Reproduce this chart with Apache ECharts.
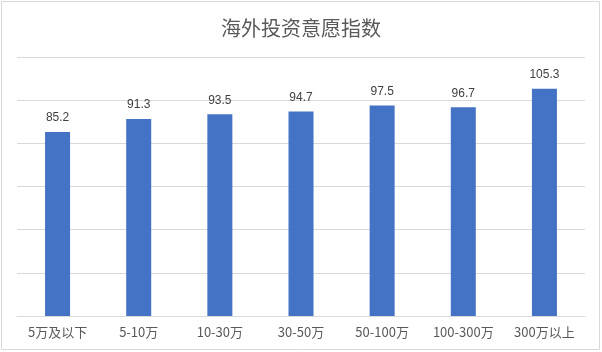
<!DOCTYPE html>
<html>
<head>
<meta charset="utf-8">
<script src="https://cdn.jsdelivr.net/npm/echarts@6/dist/echarts.min.js"></script>
<style>
  html, body { margin: 0; padding: 0; background: #fff; }
  #chart { width: 602px; height: 352px; }
</style>
</head>
<body>
<div id="chart"></div>
<script>
// income brackets and index values
const categories = ['5万及以下', '5-10万', '10-30万', '30-50万', '50-100万', '100-300万', '300万以上'];
const values = [85.2, 91.3, 93.5, 94.7, 97.5, 96.7, 105.3];

const chart = echarts.init(document.getElementById('chart'));

const option = {
  animation: false,
  backgroundColor: '#fff',
  title: {
    text: '海外投资意愿指数',
    left: 'center',
    top: 13,
    textStyle: {
      color: '#595959',
      fontSize: 20,
      fontWeight: 'normal',
      fontFamily: 'Noto Sans CJK SC'
    }
  },
  graphic: [{
    type: 'rect',
    shape: { x: 1.5, y: 1.5, width: 598, height: 348 },
    style: { fill: 'none', stroke: '#d9d9d9', lineWidth: 1 },
    silent: true
  }],
  grid: { left: 17, right: 17, top: 57, bottom: 36, containLabel: false },
  xAxis: {
    type: 'category',
    data: categories,
    axisTick: { show: false },
    axisLine: { lineStyle: { color: '#d9d9d9' } },
    axisLabel: {
      color: '#595959',
      fontSize: 13,
      margin: 10,
      fontFamily: 'Noto Sans CJK SC'
    }
  },
  yAxis: {
    type: 'value',
    min: 0,
    max: 120,
    interval: 20,
    axisLabel: { show: false },
    axisLine: { show: false },
    axisTick: { show: false },
    splitLine: { lineStyle: { color: '#d9d9d9' } }
  },
  series: [{
    type: 'bar',
    data: values,
    barWidth: 25,
    itemStyle: { color: '#4472c4' },
    label: {
      show: true,
      position: 'top',
      distance: 8,
      color: '#404040',
      fontSize: 12,
      fontFamily: 'Liberation Sans'
    }
  }]
};

chart.setOption(option);
</script>
</body>
</html>
